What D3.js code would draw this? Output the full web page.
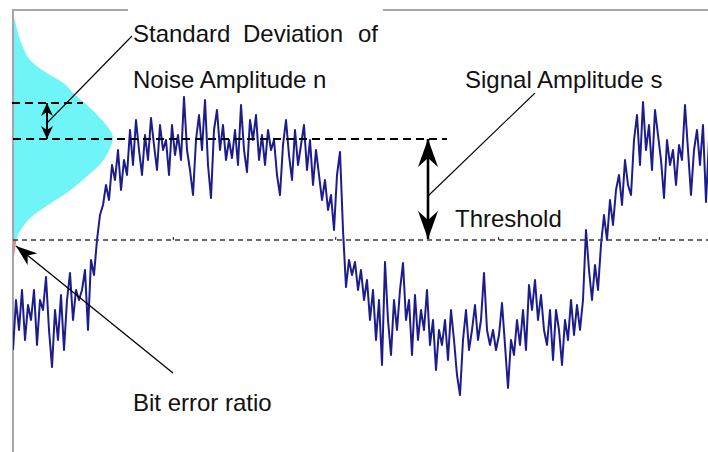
<!DOCTYPE html>
<html><head><meta charset="utf-8">
<script src="https://cdn.jsdelivr.net/npm/d3@7"></script>
<style>
html,body{margin:0;padding:0;background:#fff;}
svg{display:block;}
text{font-family:"Liberation Sans",Arial,sans-serif;font-size:24px;fill:#111;}
</style></head>
<body>
<svg id="c" width="708" height="452"></svg>
<script>
// ---- data (signal units: threshold = 0, signal amplitude s = 101) ----
const signalValues = [
 -110,-60,-90,-50,-100,-65,-80,-50,-105,-60,-70,-37,-90,-127,-70,-100,-55,-110,-60,-33,
 -80,-50,-60,-50,-30,-90,-20,-35,0,25,35,55,40,75,60,90,50,80,65,110,
 75,120,90,65,105,80,122,95,70,115,90,100,65,115,85,105,80,143,90,70,
 45,100,125,90,140,75,42,110,130,90,115,80,100,82,110,75,135,90,68,120,
 100,125,80,105,75,110,90,100,65,45,95,120,85,60,110,75,95,115,70,100,
 55,90,65,40,60,30,45,10,65,88,10,-47,-20,-35,-22,-50,-30,-60,-40,-80,
 -50,-100,-60,-125,-22,-80,-115,-60,-90,-50,-23,-80,-60,-115,-55,-100,-70,-90,-50,-105,
 -80,-130,-90,-105,-80,-120,-70,-100,-135,-155,-100,-70,-110,-90,-65,-100,-80,-33,-90,-105,
 -90,-110,-95,-63,-105,-148,-100,-115,-80,-105,-70,-110,-45,-70,-40,-80,-55,-90,-105,-70,
 -120,-70,-90,-125,-80,-100,-60,-95,-65,-90,-60,10,-30,-60,-25,-50,-5,25,0,40,
 15,50,65,35,80,55,45,100,125,75,138,90,115,70,130,105,80,42,100,75,
 90,55,95,80,135,90,45,90,110,75,115,38,100
];
const tickValues = [53.3, 107.4, 161.7, 215.3];

// noise distribution profile (level, relative density)
const pdfLevels  = [228, 215, 195, 178, 168, 158, 145, 135, 122, 108, 102, 92, 78, 62, 48, 35, 22, 12, 2, -10, -22];
const pdfDensity = [0, 0.03, 0.09, 0.19, 0.32, 0.49, 0.62, 0.74, 0.87, 0.98, 1.0, 0.97, 0.89, 0.72, 0.55, 0.35, 0.17, 0.09, 0.04, 0.02, 0];

const thresholdLevel = 0;
const meanLevel = 101;
const sigmaLevel = 137;

const labels = {
  std: ["Standard", "Deviation", "of"],
  noise: "Noise Amplitude n",
  signal: "Signal Amplitude s",
  threshold: "Threshold",
  ber: "Bit error ratio"
};

// ---- scales ----
const svg = d3.select("#c");
const x = d3.scaleLinear().domain([0, signalValues.length - 1]).range([13, 13 + 3 * (signalValues.length - 1)]);
const y = d3.scaleLinear().domain([-101, 101]).range([341, 139]);
const xd = d3.scaleLinear().domain([0, 1]).range([13, 113]);

const defs = svg.append("defs");
defs.append("clipPath").attr("id", "above").append("rect")
  .attr("x", 0).attr("y", 0).attr("width", 708).attr("height", y(thresholdLevel));
defs.append("clipPath").attr("id", "below").append("rect")
  .attr("x", 0).attr("y", y(thresholdLevel)).attr("width", 708).attr("height", 452);
defs.append("clipPath").attr("id", "plot").append("rect")
  .attr("x", 13).attr("y", 0).attr("width", 695).attr("height", 452);

function head(id, w, l, notch) {
  defs.append("marker").attr("id", id)
    .attr("viewBox", `0 ${-w/2} ${l} ${w}`)
    .attr("refX", l).attr("refY", 0)
    .attr("markerWidth", l).attr("markerHeight", w)
    .attr("markerUnits", "userSpaceOnUse")
    .attr("orient", "auto-start-reverse")
    .append("path")
    .attr("d", `M0,${-w/2} L${l},0 L0,${w/2} L${notch},0 Z`)
    .attr("fill", "#000");
}
head("hSmall", 12, 13, 4);
head("hBig", 20, 28, 9);
head("hBer", 15, 21, 6);

// ---- noise distribution ----
const pdf = pdfLevels.map((v, i) => ({v, d: pdfDensity[i]}));
const area = d3.area().curve(d3.curveMonotoneY)
  .y(d => y(d.v)).x0(xd(0)).x1(d => xd(d.d));
svg.append("path").datum(pdf).attr("d", area).attr("fill", "#6ff5f7").attr("clip-path", "url(#above)");
svg.append("path").datum(pdf).attr("d", area).attr("fill", "#f08080").attr("clip-path", "url(#below)");

// ---- frame ----
svg.append("line").attr("x1", 13).attr("x2", 13).attr("y1", 10).attr("y2", 452)
  .attr("stroke", "#a6a6a6").attr("stroke-width", 2);
svg.append("line").attr("x1", 12).attr("x2", 128).attr("y1", 10).attr("y2", 10)
  .attr("stroke", "#a6a6a6").attr("stroke-width", 2);
svg.append("line").attr("x1", 383).attr("x2", 708).attr("y1", 10).attr("y2", 10)
  .attr("stroke", "#a6a6a6").attr("stroke-width", 2);

// ---- signal ----
const line = d3.line().x((d, i) => x(i)).y(d => y(d));
svg.append("path").datum(signalValues).attr("d", line)
  .attr("fill", "none").attr("stroke", "#1c1c8c").attr("stroke-width", 2)
  .attr("stroke-linejoin", "round").attr("clip-path", "url(#plot)");

// ---- threshold axis with ticks ----
const ax = svg.append("g").attr("transform", `translate(0,${y(thresholdLevel)})`)
  .call(d3.axisTop(x).tickValues(tickValues).tickSize(3).tickFormat(""));
ax.select(".domain").remove();
ax.selectAll(".tick line").attr("stroke", "#333").attr("stroke-width", 1.2);
svg.append("line").attr("x1", 13).attr("x2", 708)
  .attr("y1", y(thresholdLevel)).attr("y2", y(thresholdLevel))
  .attr("stroke", "#3a3a3a").attr("stroke-width", 1.6).attr("stroke-dasharray", "5,4");

// ---- mean and sigma dashed lines ----
svg.append("line").attr("x1", 13).attr("x2", 447)
  .attr("y1", y(meanLevel)).attr("y2", y(meanLevel))
  .attr("stroke", "#000").attr("stroke-width", 1.8).attr("stroke-dasharray", "8,5");
svg.append("line").attr("x1", 12).attr("x2", 83)
  .attr("y1", y(sigmaLevel)).attr("y2", y(sigmaLevel))
  .attr("stroke", "#000").attr("stroke-width", 1.8).attr("stroke-dasharray", "8,5");

// ---- arrows ----
svg.append("line").attr("x1", 47).attr("x2", 47)
  .attr("y1", y(sigmaLevel)).attr("y2", y(meanLevel))
  .attr("stroke", "#000").attr("stroke-width", 2)
  .attr("marker-start", "url(#hSmall)").attr("marker-end", "url(#hSmall)");
svg.append("line").attr("x1", 428).attr("x2", 428)
  .attr("y1", y(meanLevel)).attr("y2", y(thresholdLevel) - 1)
  .attr("stroke", "#000").attr("stroke-width", 2.6)
  .attr("marker-start", "url(#hBig)").attr("marker-end", "url(#hBig)");

// leader lines
svg.append("line").attr("x1", 132).attr("y1", 36).attr("x2", 47).attr("y2", 123)
  .attr("stroke", "#000").attr("stroke-width", 1.1);
svg.append("line").attr("x1", 535).attr("y1", 93).attr("x2", 428).attr("y2", 196)
  .attr("stroke", "#000").attr("stroke-width", 1.1);
svg.append("line").attr("x1", 173).attr("y1", 373).attr("x2", 16).attr("y2", 246)
  .attr("stroke", "#000").attr("stroke-width", 1.3).attr("marker-end", "url(#hBer)");

// ---- texts ----
const stdX = [133, 243, 358];
labels.std.forEach((t, i) => svg.append("text").attr("x", stdX[i]).attr("y", 42).text(t));
svg.append("text").attr("x", 133).attr("y", 88).text(labels.noise);
svg.append("text").attr("x", 465).attr("y", 88).text(labels.signal);
svg.append("text").attr("x", 455).attr("y", 227).text(labels.threshold);
svg.append("text").attr("x", 133).attr("y", 411).text(labels.ber);
</script>
</body></html>
